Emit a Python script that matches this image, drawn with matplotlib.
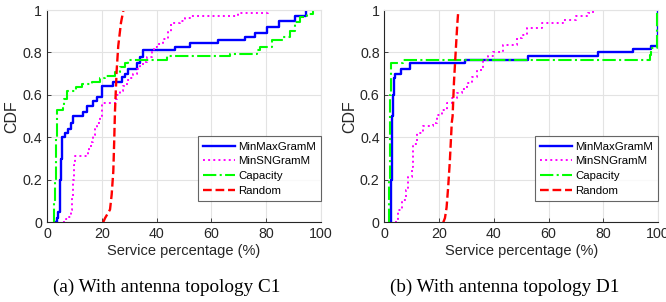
import matplotlib
matplotlib.use("Agg")
import matplotlib.pyplot as plt

# ---------------- data ----------------
series_names = ["MinMaxGramM", "MinSNGramM", "Capacity", "Random"]

# Panel (a): antenna topology C1
a_minmax_x = [3.3, 3.5, 4.0, 4.6, 4.8, 5.0, 5.3, 5.5, 6.6, 7.8, 8.6, 9.6, 13.0, 14.7, 16.7, 18.1,
              20.0, 24.2, 27.3, 28.5, 29.4, 32.7, 33.9, 35.1, 46.7, 52.2, 62.5, 72.3, 75.9, 80.2,
              84.8, 90.5, 94.5]
a_minmax_y = [0.0, 0.02, 0.05, 0.10, 0.20, 0.30, 0.38, 0.40, 0.42, 0.44, 0.47, 0.50, 0.52, 0.55, 0.57, 0.59,
              0.64, 0.66, 0.685, 0.70, 0.72, 0.75, 0.78, 0.81, 0.825, 0.845, 0.86, 0.875, 0.89, 0.92,
              0.95, 0.97, 1.0]

a_minsn_x = [6.0, 7.0, 8.0, 8.8, 9.2, 9.6, 10.0, 10.3, 14.8, 15.5, 16.2, 16.9, 17.5, 18.3, 19.3, 20.0,
             24.8, 25.4, 26.6, 27.9, 29.1, 30.3, 31.5, 32.7, 33.9, 35.1, 36.4, 38.2, 39.1, 40.0, 42.4,
             44.3, 45.1, 48.5, 50.4, 52.2, 69.8, 80.8]
a_minsn_y = [0.0, 0.015, 0.025, 0.06, 0.12, 0.20, 0.27, 0.31, 0.33, 0.35, 0.38, 0.41, 0.44, 0.47, 0.50, 0.563,
             0.58, 0.60, 0.62, 0.64, 0.67, 0.68, 0.70, 0.72, 0.735, 0.755, 0.78, 0.80, 0.826, 0.84, 0.865,
             0.895, 0.937, 0.95, 0.96, 0.97, 0.985, 1.0]

a_capacity_x = [2.4, 2.7, 3.0, 3.2, 3.4, 3.6, 3.7, 5.9, 6.3, 7.2, 10.6, 12.7, 16.3, 19.3, 21.2, 24.8,
                26.6, 28.5, 29.7, 43.7, 66.8, 76.5, 77.7, 82.0, 86.0, 88.7, 90.5, 92.3, 94.8, 97.2]
a_capacity_y = [0.0, 0.1, 0.2, 0.3, 0.4, 0.5, 0.53, 0.54, 0.58, 0.62, 0.635, 0.65, 0.66, 0.68, 0.69, 0.71,
                0.73, 0.75, 0.765, 0.783, 0.795, 0.81, 0.826, 0.861, 0.874, 0.90, 0.944, 0.966, 0.98, 1.0]

a_random_x = [20.5, 21.2, 23.0, 23.6, 24.2, 24.5, 24.8, 25.4, 26.0, 27.0, 27.9]
a_random_y = [0.0, 0.02, 0.06, 0.13, 0.24, 0.37, 0.52, 0.71, 0.83, 0.94, 1.0]

# Panel (b): antenna topology D1
b_minmax_x = [2.3, 2.4, 2.5, 2.6, 2.8, 3.0, 3.3, 3.7, 6.2, 9.4, 29.3, 52.5, 78.1, 90.9, 97.6, 99.9]
b_minmax_y = [0.0, 0.1, 0.2, 0.35, 0.5, 0.6, 0.68, 0.70, 0.72, 0.75, 0.765, 0.783, 0.80, 0.815, 0.83, 1.0]

b_minsn_x = [3.8, 5.0, 6.3, 7.9, 8.7, 9.9, 10.5, 11.8, 14.2, 17.8, 19.1, 20.9, 22.7, 24.5, 26.4, 28.2,
             30.1, 32.0, 33.7, 36.1, 38.0, 39.8, 43.4, 48.3, 50.2, 52.0, 57.5, 65.4, 69.9, 74.5, 76.3]
b_minsn_y = [0.0, 0.06, 0.105, 0.15, 0.215, 0.26, 0.37, 0.42, 0.455, 0.47, 0.505, 0.53, 0.56, 0.585, 0.607, 0.63,
             0.654, 0.685, 0.717, 0.764, 0.785, 0.803, 0.834, 0.87, 0.881, 0.916, 0.941, 0.955, 0.973, 0.985, 1.0]

b_capacity_x = [1.6, 1.7, 1.9, 2.1, 2.3, 2.5, 6.8, 97.0, 97.5, 99.8]
b_capacity_y = [0.0, 0.2, 0.4, 0.6, 0.7, 0.75, 0.765, 0.79, 0.82, 1.0]

b_random_x = [21.5, 22.1, 22.7, 23.3, 23.9, 24.6, 24.9, 25.4, 26.1, 26.6, 27.0]
b_random_y = [0.0, 0.02, 0.07, 0.17, 0.29, 0.47, 0.5, 0.66, 0.82, 0.93, 1.0]

captions = ["(a) With antenna topology C1", "(b) With antenna topology D1"]
x_ticks = [0, 20, 40, 60, 80, 100]
y_ticks = [0, 0.2, 0.4, 0.6, 0.8, 1]
y_tick_labels = ["0", "0.2", "0.4", "0.6", "0.8", "1"]

# ---------------- style ----------------
plt.rcParams["font.family"] = ["Liberation Sans", "DejaVu Sans"]

colors = ["#0000ff", "#ff00ff", "#00ff00", "#ff0000"]
styles = ["-", ":", "-.", "--"]
widths = [1.7, 1.4, 1.5, 1.7]
steps = [True, True, True, False]

panels = [
    [(a_minmax_x, a_minmax_y), (a_minsn_x, a_minsn_y), (a_capacity_x, a_capacity_y), (a_random_x, a_random_y)],
    [(b_minmax_x, b_minmax_y), (b_minsn_x, b_minsn_y), (b_capacity_x, b_capacity_y), (b_random_x, b_random_y)],
]

fig = plt.figure(figsize=(6.66, 3.02), dpi=100)
ax_rects = [
    [47 / 666, 1 - 222.3 / 302, 274 / 666, 212.3 / 302],
    [384.5 / 666, 1 - 222.3 / 302, 273.5 / 666, 212.3 / 302],
]
cap_x = [167 / 666, 505 / 666]

for pi, ax_rect in enumerate(ax_rects):
    ax = fig.add_axes(ax_rect)
    for si, (xs, ys) in enumerate(panels[pi]):
        ds = "steps-post" if steps[si] else "default"
        ax.plot(xs, ys, linestyle=styles[si], color=colors[si], linewidth=widths[si],
                drawstyle=ds, label=series_names[si])
    ax.set_xlim(0, 100)
    ax.set_ylim(0, 1)
    ax.set_xticks(x_ticks)
    ax.set_yticks(y_ticks)
    ax.set_yticklabels(y_tick_labels)
    ax.grid(True, color="#e3e3e3", linewidth=0.8)
    ax.set_axisbelow(True)
    ax.tick_params(direction="in", length=3, width=0.6, labelsize=10.3, colors="#262626",
                   top=False, right=False)
    for side in ["left", "bottom"]:
        ax.spines[side].set_color("#262626")
        ax.spines[side].set_linewidth(0.8)
    for side in ["top", "right"]:
        ax.spines[side].set_color("#e3e3e3")
        ax.spines[side].set_linewidth(0.8)
    ax.set_xlabel("Service percentage (%)", fontsize=10.5, color="#262626", labelpad=2)
    ax.set_ylabel("CDF", fontsize=11.5, color="#262626", labelpad=2)
    leg = ax.legend(loc="lower right", bbox_to_anchor=(1.0, 0.1), borderaxespad=0,
                    fontsize=8.2, frameon=True, fancybox=False, handlelength=2.8,
                    handletextpad=0.25, labelspacing=0.42, borderpad=0.45)
    leg.get_frame().set_edgecolor("#404040")
    leg.get_frame().set_linewidth(0.8)
    fig.text(cap_x[pi], 1 - 287 / 302, captions[pi], ha="center", va="center",
             fontsize=13.8, family=["Liberation Serif", "DejaVu Serif"])

fig.savefig("out.png", dpi=100)
